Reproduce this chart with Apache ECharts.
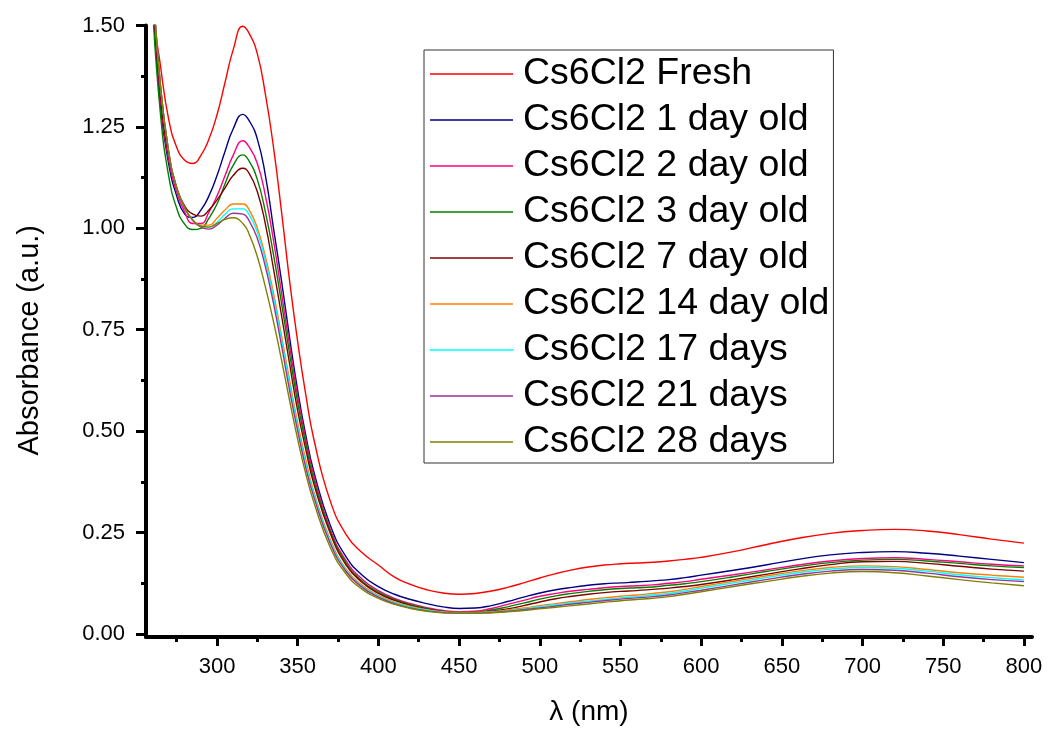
<!DOCTYPE html>
<html>
<head>
<meta charset="utf-8">
<script src="https://cdn.jsdelivr.net/npm/echarts@6/dist/echarts.min.js"></script>
<style>
html,body{margin:0;padding:0;background:#fff;}
#chart{width:1049px;height:731px;}
</style>
</head>
<body>
<div id="chart"></div>
<script>
const wavelengths = [255,260,265,270,275,280,285,290,295,300,305,310,316,320,325,330,335,340,345,350,355,360,370,380,390,400,410,420,430,440,450,460,470,480,490,500,510,520,530,540,550,560,570,580,590,600,620,640,660,680,700,720,740,760,780,800];

const fresh = [2.1,1.56,1.40,1.27,1.20,1.168,1.160,1.18,1.22,1.28,1.36,1.44,1.498,1.48,1.43,1.33,1.20,1.04,0.87,0.72,0.59,0.48,0.33,0.245,0.20,0.17,0.14,0.122,0.109,0.101,0.098,0.100,0.106,0.115,0.126,0.138,0.149,0.158,0.165,0.170,0.173,0.175,0.177,0.180,0.184,0.189,0.203,0.220,0.236,0.248,0.255,0.258,0.254,0.245,0.234,0.224];
const day1 = [2.0,1.58,1.30,1.16,1.08,1.035,1.027,1.045,1.08,1.13,1.19,1.245,1.281,1.265,1.22,1.13,1.00,0.87,0.73,0.60,0.49,0.40,0.27,0.19,0.145,0.117,0.098,0.085,0.075,0.067,0.063,0.064,0.070,0.080,0.091,0.101,0.109,0.115,0.120,0.124,0.126,0.128,0.131,0.134,0.139,0.145,0.157,0.170,0.184,0.195,0.201,0.203,0.199,0.192,0.184,0.176];
const day2 = [2.0,1.6,1.32,1.17,1.09,1.04,1.012,1.012,1.04,1.08,1.13,1.18,1.216,1.20,1.16,1.08,0.97,0.84,0.71,0.585,0.48,0.39,0.26,0.18,0.135,0.107,0.088,0.075,0.065,0.058,0.055,0.056,0.063,0.073,0.083,0.093,0.100,0.106,0.110,0.114,0.117,0.119,0.121,0.125,0.129,0.135,0.146,0.158,0.170,0.180,0.186,0.188,0.184,0.178,0.172,0.168];
const day3 = [1.95,1.55,1.28,1.13,1.05,1.01,0.997,1.0,1.025,1.06,1.11,1.155,1.181,1.165,1.12,1.04,0.935,0.815,0.69,0.57,0.47,0.38,0.255,0.175,0.13,0.103,0.085,0.072,0.063,0.056,0.053,0.054,0.059,0.067,0.076,0.086,0.094,0.100,0.105,0.109,0.112,0.114,0.116,0.120,0.124,0.129,0.141,0.154,0.166,0.176,0.182,0.184,0.180,0.174,0.168,0.164];
const day7 = [2.0,1.6,1.33,1.18,1.10,1.055,1.035,1.03,1.045,1.07,1.10,1.13,1.148,1.135,1.09,1.01,0.90,0.785,0.665,0.55,0.455,0.37,0.25,0.17,0.127,0.1,0.083,0.070,0.061,0.055,0.052,0.053,0.056,0.062,0.070,0.079,0.087,0.093,0.098,0.102,0.105,0.107,0.110,0.113,0.117,0.122,0.134,0.147,0.160,0.171,0.178,0.179,0.174,0.167,0.160,0.155];
const day14 = [2.0,1.62,1.35,1.19,1.10,1.05,1.02,1.008,1.008,1.025,1.045,1.06,1.06,1.045,1.0,0.93,0.84,0.735,0.625,0.52,0.43,0.35,0.235,0.16,0.12,0.095,0.079,0.068,0.06,0.055,0.053,0.053,0.055,0.059,0.064,0.070,0.075,0.080,0.085,0.089,0.093,0.096,0.100,0.104,0.110,0.117,0.130,0.143,0.155,0.164,0.168,0.166,0.159,0.151,0.145,0.140];
const day17 = [2.0,1.62,1.35,1.19,1.10,1.05,1.02,1.005,1.003,1.015,1.035,1.048,1.048,1.033,0.99,0.92,0.83,0.725,0.615,0.51,0.42,0.345,0.23,0.157,0.117,0.093,0.077,0.066,0.059,0.054,0.052,0.052,0.054,0.057,0.062,0.067,0.072,0.077,0.081,0.085,0.089,0.092,0.096,0.100,0.106,0.113,0.126,0.139,0.151,0.160,0.164,0.162,0.155,0.146,0.139,0.133];
const day21 = [2.0,1.62,1.35,1.19,1.10,1.05,1.02,1.003,0.998,1.008,1.025,1.037,1.035,1.018,0.975,0.905,0.815,0.71,0.60,0.50,0.41,0.338,0.225,0.154,0.115,0.091,0.075,0.064,0.057,0.053,0.051,0.051,0.053,0.056,0.060,0.064,0.069,0.074,0.078,0.082,0.086,0.089,0.092,0.096,0.102,0.108,0.121,0.134,0.146,0.155,0.159,0.157,0.150,0.141,0.134,0.129];
const day28 = [2.0,1.62,1.35,1.19,1.10,1.05,1.02,1.005,1.003,1.012,1.022,1.026,1.012,0.985,0.93,0.855,0.77,0.675,0.575,0.48,0.395,0.325,0.215,0.148,0.11,0.088,0.073,0.063,0.056,0.052,0.051,0.051,0.052,0.055,0.058,0.062,0.066,0.070,0.074,0.078,0.082,0.085,0.088,0.092,0.098,0.104,0.117,0.129,0.141,0.150,0.154,0.151,0.143,0.134,0.126,0.119];

const seriesNames = ['Cs6Cl2 Fresh','Cs6Cl2 1 day old','Cs6Cl2 2 day old','Cs6Cl2 3 day old','Cs6Cl2 7 day old','Cs6Cl2 14 day old','Cs6Cl2 17 days','Cs6Cl2 21 days','Cs6Cl2 28 days'];
const seriesValues = [fresh, day1, day2, day3, day7, day14, day17, day21, day28];
const seriesColors = ['#FF0000','#000080','#FF0080','#008000','#800000','#FF8000','#00FFFF','#993399','#808000'];

const xMajorTicks = [300,350,400,450,500,550,600,650,700,750,800];
const xMinorTicks = [275,325,375,425,475,525,575,625,675,725,775];
const yMajorTicks = [0,0.25,0.5,0.75,1.0,1.25,1.5];
const yMinorTicks = [0.125,0.375,0.625,0.875,1.125,1.375];

const FONT = 'Liberation Sans, Arial, sans-serif';
const X_MIN = 256, X_MAX = 805, Y_MIN = -0.0074, Y_MAX = 1.5;

const chart = echarts.init(document.getElementById('chart'), null, {renderer: 'canvas'});

const series = seriesNames.map((name, i) => ({
  name: name,
  type: 'line',
  xAxisIndex: 0,
  yAxisIndex: 0,
  data: wavelengths.map((w, j) => [w, seriesValues[i][j]]),
  showSymbol: false,
  symbol: 'none',
  smooth: 0.5,
  clip: true,
  lineStyle: {color: seriesColors[i], width: 1.4},
  itemStyle: {color: seriesColors[i]},
  emphasis: {disabled: true},
  animation: false
}));

chart.setOption({
  animation: false,
  backgroundColor: '#ffffff',
  grid: {left: 146, right: 17, top: 25.5, bottom: 94, containLabel: false},
  legend: {
    show: true,
    left: 424,
    top: 50,
    orient: 'vertical',
    data: seriesNames,
    icon: 'rect',
    itemWidth: 83,
    itemHeight: 1.5,
    itemGap: 6,
    padding: [4, 4, 1, 6],
    borderColor: '#333333',
    borderWidth: 1,
    backgroundColor: '#ffffff',
    selectedMode: false,
    textStyle: {fontFamily: FONT, fontSize: 37.5, color: '#000', lineHeight: 40, padding: [0, 0, 0, 5]}
  },
  xAxis: [
    {
      type: 'value', min: X_MIN, max: X_MAX, position: 'bottom',
      name: 'λ (nm)', nameLocation: 'middle', nameGap: 61,
      nameTextStyle: {fontFamily: FONT, fontSize: 28, color: '#000'},
      axisLine: {show: true, onZero: false, lineStyle: {color: '#000', width: 4}},
      axisTick: {show: true, inside: false, length: 9, customValues: xMajorTicks, lineStyle: {color: '#000', width: 3}},
      axisLabel: {show: true, customValues: xMajorTicks, margin: 19, fontFamily: FONT, fontSize: 22, color: '#000'},
      splitLine: {show: false}
    },
    {
      type: 'value', min: X_MIN, max: X_MAX, position: 'bottom',
      axisLine: {show: false, onZero: false},
      axisTick: {show: true, inside: false, length: 5, customValues: xMinorTicks, lineStyle: {color: '#000', width: 3}},
      axisLabel: {show: false},
      splitLine: {show: false}
    }
  ],
  yAxis: [
    {
      type: 'value', min: Y_MIN, max: Y_MAX, position: 'left',
      name: 'Absorbance (a.u.)', nameLocation: 'middle', nameGap: 102,
      nameTextStyle: {fontFamily: FONT, fontSize: 29, color: '#000', padding: [0, 18, 0, 0]},
      axisLine: {show: true, onZero: false, lineStyle: {color: '#000', width: 4}},
      axisTick: {show: true, inside: false, length: 10, customValues: yMajorTicks, lineStyle: {color: '#000', width: 3}},
      axisLabel: {show: true, customValues: yMajorTicks, margin: 21, fontFamily: FONT, fontSize: 22, color: '#000',
        formatter: v => Number(v).toFixed(2)},
      splitLine: {show: false}
    },
    {
      type: 'value', min: Y_MIN, max: Y_MAX, position: 'left',
      axisLine: {show: false, onZero: false},
      axisTick: {show: true, inside: false, length: 5, customValues: yMinorTicks, lineStyle: {color: '#000', width: 3}},
      axisLabel: {show: false},
      splitLine: {show: false}
    }
  ],
  series: series
});
</script>
</body>
</html>
